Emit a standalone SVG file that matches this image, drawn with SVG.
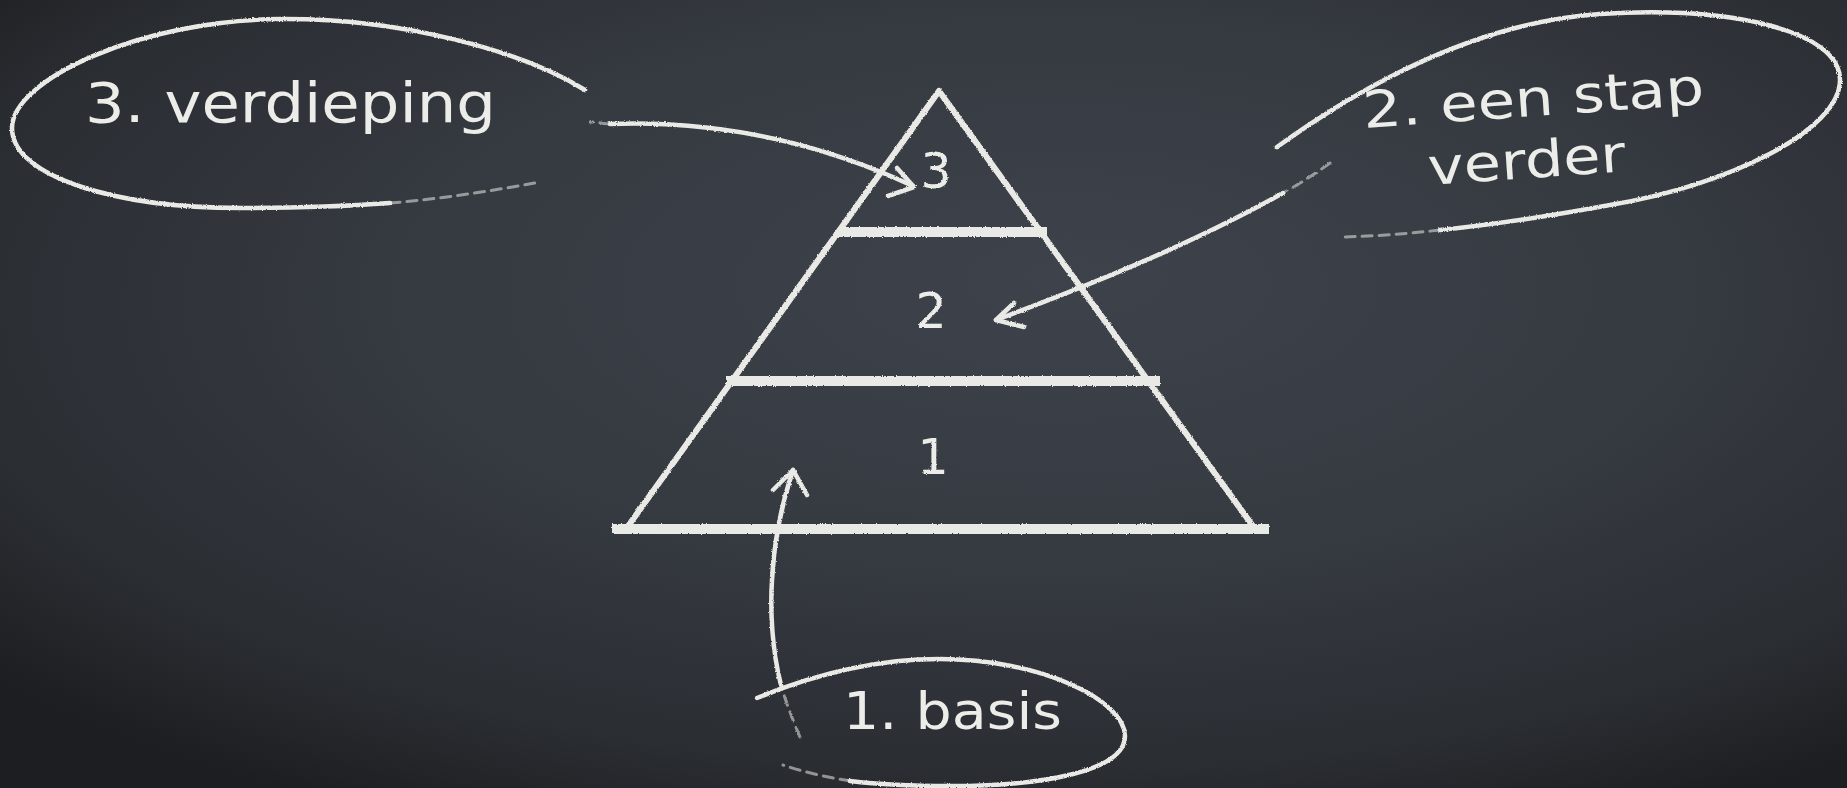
<svg xmlns="http://www.w3.org/2000/svg" width="1847" height="788" viewBox="0 0 1847 788">
  <defs>
    <radialGradient id="board" cx="55%" cy="40%" r="72%" fx="58%" fy="35%">
      <stop offset="0" stop-color="#3e424a"/>
      <stop offset="0.5" stop-color="#353940"/>
      <stop offset="0.82" stop-color="#2a2d32"/>
      <stop offset="1" stop-color="#1d1e21"/>
    </radialGradient>
    <filter id="chalk" x="-5%" y="-5%" width="110%" height="110%">
      <feTurbulence type="fractalNoise" baseFrequency="0.8" numOctaves="2" seed="3" result="n"/>
      <feDisplacementMap in="SourceGraphic" in2="n" scale="2.5" xChannelSelector="R" yChannelSelector="G"/>
    </filter>
    <style>
      .chalk { fill: none; stroke: #e9e9e6; stroke-linecap: round; stroke-linejoin: round; }
      .side { stroke-width: 6; }
      .bar { stroke-width: 10; stroke-linecap: butt; }
      .oval { stroke-width: 4.5; }
      .fade { stroke-width: 3; stroke-dasharray: 10 7; opacity: 0.55; }
      .conn { stroke-width: 4.5; }
      .head { stroke-width: 4.5; }
      .lbl { fill: #ecece9; font-family: "DejaVu Sans", "Liberation Sans", sans-serif; }
      .num { fill: #ecece9; font-family: "DejaVu Sans", "Liberation Sans", sans-serif; font-size: 49px; text-anchor: middle; }
    </style>
  </defs>

  <rect x="0" y="0" width="1847" height="788" fill="url(#board)"/>

  <g id="pyramid" filter="url(#chalk)">
    <path class="chalk side" d="M626,529 L939,91 L1255,529"/>
    <line class="chalk bar" x1="838" y1="232" x2="1047" y2="232"/>
    <line class="chalk bar" x1="726" y1="381" x2="1160" y2="381"/>
    <line class="chalk bar" x1="612" y1="529" x2="1269" y2="529"/>
    <g id="layer-3"><text class="num" x="936" y="188">3</text></g>
    <g id="layer-2"><text class="num" x="931" y="328">2</text></g>
    <g id="layer-1"><text class="num" x="933" y="474">1</text></g>
  </g>

  <g id="node-verdieping">
    <path class="chalk oval" filter="url(#chalk)" d="M585,90 C520,50 400,18 280,19 C140,20 12,80 12,128 C12,178 120,208 240,208 C300,208 350,206 390,203"/>
    <path class="chalk fade" d="M390,203 C440,199 490,191 535,183"/>
    <text class="lbl" x="85" y="122" font-size="56" textLength="411" lengthAdjust="spacingAndGlyphs">3. verdieping</text>
  </g>

  <g id="node-stap">
    <path class="chalk oval" filter="url(#chalk)" d="M1277,147 C1370,80 1480,22 1600,14 C1730,6 1840,30 1840,80 C1840,130 1730,185 1610,205 C1550,216 1490,225 1440,230"/>
    <path class="chalk fade" d="M1440,230 C1405,234 1375,236 1345,237"/>
    <text class="lbl" x="1364" y="128" font-size="51" textLength="342" lengthAdjust="spacingAndGlyphs" transform="rotate(-4 1364 128)">2. een stap</text>
    <text class="lbl" x="1429" y="185" font-size="51" textLength="198" lengthAdjust="spacingAndGlyphs" transform="rotate(-4 1429 185)">verder</text>
  </g>

  <g id="node-basis">
    <path class="chalk oval" filter="url(#chalk)" d="M757,698 C820,672 880,659 940,659 C1040,659 1125,700 1125,736 C1125,772 1040,786 950,786 C910,786 875,784 850,781"/>
    <path class="chalk fade" d="M850,781 C825,777 800,771 783,765"/>
    <text class="lbl" x="843" y="729" font-size="51" textLength="219" lengthAdjust="spacingAndGlyphs">1. basis</text>
  </g>

  <g id="connectors" filter="url(#chalk)">
    <g id="conn-verdieping">
      <path class="chalk fade" d="M610,124 C600,123 595,122 590,122"/>
      <path class="chalk conn" d="M610,124 C720,120 820,143 913,186"/>
      <path class="chalk head" d="M897,168 L914,187 L888,196"/>
    </g>
    <g id="conn-stap">
      <path class="chalk fade" d="M1330,163 C1312,176 1296,186 1283,193"/>
      <path class="chalk conn" d="M1283,193 C1190,245 1090,285 996,320"/>
      <path class="chalk head" d="M1014,303 L996,320 L1024,327"/>
    </g>
    <g id="conn-basis">
      <path class="chalk fade" d="M800,737 C792,718 785,700 781,685"/>
      <path class="chalk conn" d="M781,685 C772,650 770,610 772,580 C774,540 783,500 793,470"/>
      <path class="chalk head" d="M773,490 L793,470 L807,495"/>
    </g>
  </g>
</svg>
